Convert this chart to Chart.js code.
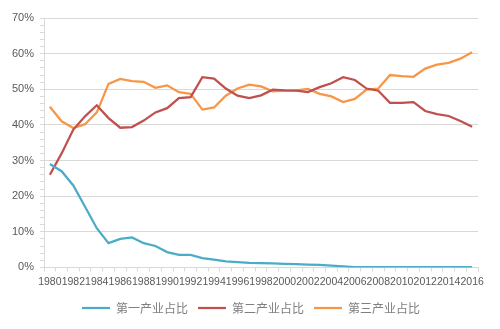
<!DOCTYPE html>
<html lang="zh">
  <head>
    <meta charset="UTF-8" />
    <script src="https://cdn.jsdelivr.net/npm/chart.js"></script>
    <style>
      html, body { margin: 0; padding: 0; background: #fff; }
    </style>
  </head>
  <body>
    <canvas id="myChart" width="500" height="329"></canvas>

    <script>
      const years = ["1980", "1981", "1982", "1983", "1984", "1985", "1986", "1987", "1988", "1989",
        "1990", "1991", "1992", "1993", "1994", "1995", "1996", "1997", "1998", "1999",
        "2000", "2001", "2002", "2003", "2004", "2005", "2006", "2007", "2008", "2009",
        "2010", "2011", "2012", "2013", "2014", "2015", "2016"];

      // 占比 (%)
      const primary = [29.0, 27.0, 23.0, 17.0, 11.0, 6.8, 8.0, 8.4, 6.8, 6.0,
        4.3, 3.5, 3.5, 2.6, 2.2, 1.7, 1.5, 1.3, 1.2, 1.1,
        1.0, 0.9, 0.8, 0.7, 0.5, 0.3, 0.1, 0.1, 0.1, 0.1,
        0.1, 0.1, 0.1, 0.1, 0.1, 0.1, 0.1];
      const secondary = [26.0, 32.0, 38.7, 42.4, 45.5, 41.9, 39.2, 39.4, 41.2, 43.5,
        44.7, 47.5, 47.8, 53.4, 53.0, 50.2, 48.2, 47.5, 48.3, 49.9,
        49.7, 49.6, 49.2, 50.6, 51.7, 53.4, 52.6, 50.2, 49.6, 46.2,
        46.2, 46.4, 43.9, 43.0, 42.5, 41.1, 39.5];
      const tertiary = [45.1, 41.0, 39.1, 40.2, 43.5, 51.5, 52.9, 52.3, 52.1, 50.4,
        51.1, 49.2, 48.7, 44.3, 44.9, 48.2, 50.2, 51.3, 50.8, 49.4,
        49.6, 49.7, 50.1, 48.7, 48.0, 46.4, 47.3, 49.9, 50.2, 54.0,
        53.7, 53.5, 55.8, 56.9, 57.4, 58.6, 60.4];

      const yTicks = [0, 10, 20, 30, 40, 50, 60, 70];

      const ctx = document.getElementById("myChart");
      const gray = "#595959";

      function series(label, data, color) {
        return {
          label: label,
          data: data,
          borderColor: color,
          backgroundColor: color,
          pointBorderColor: color,
          pointBorderWidth: 2.25,
        };
      }

      const myChart = new Chart(ctx, {
        type: "line",
        data: {
          labels: years,
          datasets: [
            series("第一产业占比", primary, "#4bacc6"),
            series("第二产业占比", secondary, "#c0504d"),
            series("第三产业占比", tertiary, "#f79646"),
          ],
        },
        options: {
          responsive: false,
          animation: false,
          layout: { padding: { top: 18, right: 2, left: 4, bottom: 5 } },
          elements: {
            line: { borderWidth: 2.25, tension: 0 },
            point: { radius: 0 },
          },
          plugins: {
            tooltip: { enabled: false },
            legend: {
              position: "bottom",
              labels: {
                usePointStyle: true,
                pointStyle: "line",
                pointStyleWidth: 28,
                padding: 10,
                color: "#7f7f7f",
                font: { family: "'Noto Sans CJK SC'", size: 12 },
              },
            },
          },
          scales: {
            x: {
              offset: true,
              grid: {
                offset: true,
                drawOnChartArea: false,
                tickLength: 4,
                color: "#d9d9d9",
              },
              border: { color: "#d9d9d9" },
              ticks: {
                autoSkip: false,
                maxRotation: 0,
                padding: 4,
                color: gray,
                font: { family: "'Liberation Sans'", size: 10.5 },
                callback: (v, i) => (i % 2 === 0 ? years[i] : ""),
              },
            },
            y: {
              min: 0,
              max: 70,
              afterFit: (scale) => { scale.width = 40; },
              grid: {
                color: (c) => (yTicks.includes(c.tick.value) ? "#d9d9d9" : "rgba(0,0,0,0)"),
                tickColor: "#d9d9d9",
                tickLength: 4,
              },
              border: { color: "#d9d9d9" },
              ticks: {
                stepSize: 2,
                autoSkip: false,
                padding: 6,
                color: gray,
                font: { family: "'Liberation Sans'", size: 11 },
                callback: (v) => (yTicks.includes(v) ? v + "%" : ""),
              },
            },
            // empty right-hand gutter, keeps the legend centred on the page
            yRight: {
              position: "right",
              min: 0,
              max: 70,
              afterFit: (scale) => { scale.width = 20; },
              grid: { display: false },
              border: { display: false },
              ticks: { display: false },
            },
          },
        },
      });
    </script>
  </body>
</html>
